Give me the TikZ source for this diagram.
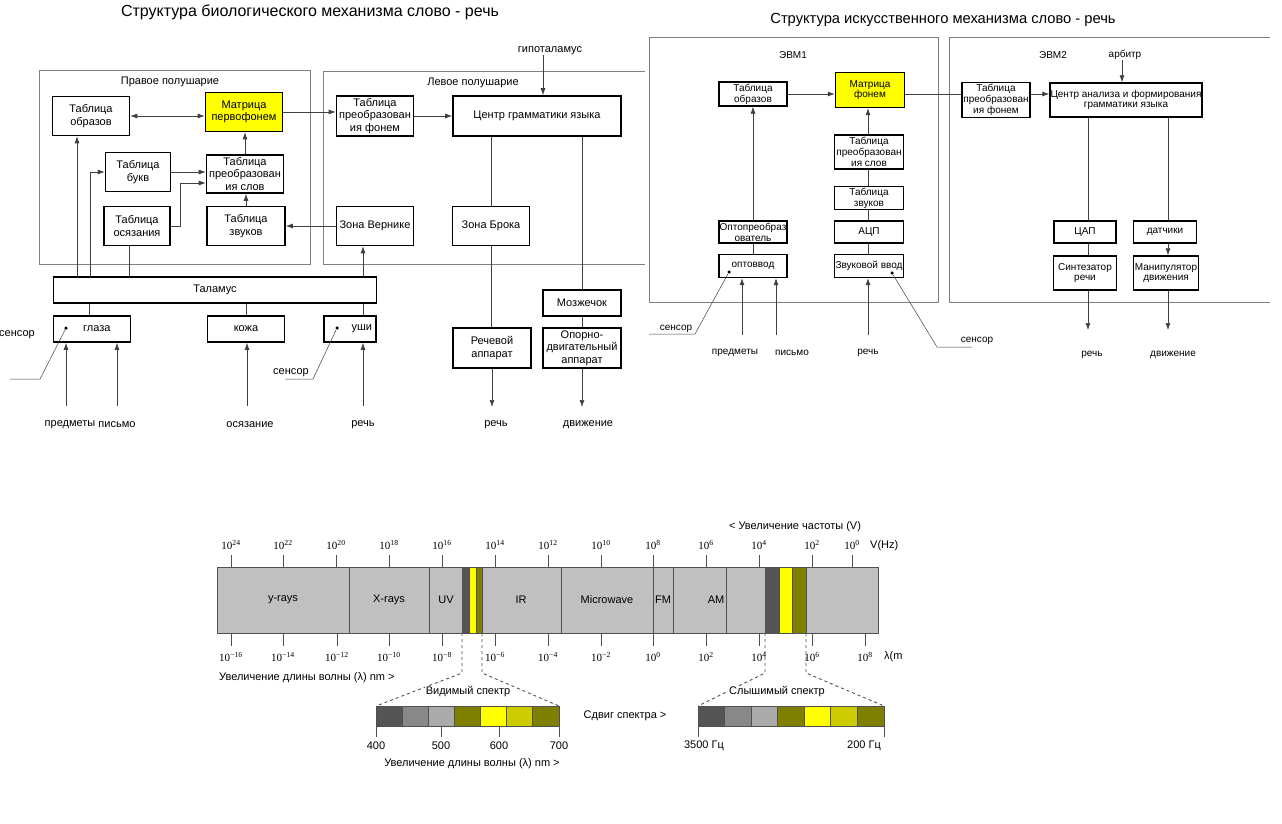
\documentclass[tikz,border=0pt]{standalone}
\usepackage{fontspec}
\setmainfont{Liberation Sans}
\newfontfamily\serifnum{Liberation Serif}
\usetikzlibrary{arrows.meta}

\definecolor{frmgray}{HTML}{808080}
\definecolor{lnkgray}{HTML}{404040}
\definecolor{specgray}{HTML}{C0C0C0}
\definecolor{specline}{HTML}{505050}
\definecolor{specdark}{HTML}{555555}
\definecolor{specmid}{HTML}{888888}
\definecolor{speclight}{HTML}{AAAAAA}
\definecolor{spolive}{HTML}{808000}
\definecolor{splolive}{HTML}{CCCC00}
\definecolor{yel}{HTML}{FFFF00}

\begin{document}
\begin{tikzpicture}[x=1pt, y=-1pt, >={Latex[length=7pt,width=5pt]},
    box/.style={draw, line width=1.6pt, fill=white, align=center, inner sep=0.5pt, font=\fontsize{11}{12.3}\selectfont},
    sbox/.style={box, line width=1.4pt, font=\fontsize{10}{10.8}\selectfont},
    hot/.style={fill=yel},
    hemi/.style={draw=frmgray, line width=0.8pt},
    wire/.style={draw=lnkgray, line width=0.7pt},
    txt/.style={font=\fontsize{11}{12}\selectfont, inner sep=0pt},
    stxt/.style={font=\fontsize{10}{11}\selectfont, inner sep=0pt},
    dotm/.style={circle, fill=black, inner sep=0pt, minimum size=3.5pt},
    band/.style={draw=specline, line width=0.9pt},
    num/.style={font=\serifnum\fontsize{11}{12}\selectfont, inner sep=0pt}]
\useasboundingbox (0,0) rectangle (1282,824);

% titles
\node[font=\fontsize{16}{18}\selectfont] (tBio) at (310,12) {Структура биологического механизма слово - речь};
\node[font=\fontsize{14.7}{16}\selectfont] (tArt) at (943,20) {Структура искусственного механизма слово - речь};

% hemispheres
\draw[hemi] (39,70) rectangle (310,264);
\node[txt] (tRight) at (170,82) {Правое полушарие};
\draw[hemi] (645,71) -- (323,71) -- (323,264) -- (645,264);
\node[txt] (tLeft) at (473,83) {Левое полушарие};

\node[box, minimum width=77, minimum height=39] (bObr) at (91,116) {Таблица\\образов};
\node[box, hot, minimum width=77, minimum height=39] (bMat) at (244,112) {Матрица\\первофонем};
\node[box, minimum width=65, minimum height=39] (bBukv) at (138,172) {Таблица\\букв};
\node[box, minimum width=77, minimum height=38] (bSlov) at (245,174) {Таблица\\преобразован\\ия слов};
\node[box, minimum width=66, minimum height=39] (bOsyaz) at (137,226) {Таблица\\осязания};
\node[box, minimum width=78, minimum height=39] (bZvuk) at (246,226) {Таблица\\звуков};

\node[box, minimum width=77, minimum height=40] (bFon) at (375,116) {Таблица\\преобразован\\ия фонем};
\node[box, minimum width=168, minimum height=40] (bCtr) at (537,116) {Центр грамматики языка};
\node[box, minimum width=77, minimum height=39] (bVern) at (375,226) {Зона Вернике};
\node[box, minimum width=77, minimum height=39] (bBrok) at (491,226) {Зона Брока};
\node[box, minimum width=78, minimum height=26] (bMozg) at (582,303) {Мозжечок};
\node[box, minimum width=78, minimum height=40] (bOpor) at (582,348) {Опорно-\\двигательный\\аппарат};
\node[box, minimum width=78, minimum height=40] (bRech) at (492,348) {Речевой\\аппарат};

\node[box, minimum width=323, minimum height=26] (bTal) at (215,290) {Таламус};
\node[box, minimum width=77, minimum height=26, text width=37, align=right] (bGlaz) at (92,329) {глаза};
\node[box, minimum width=77, minimum height=26] (bKozh) at (246,329) {кожа};
\node[box, minimum width=52, minimum height=26, text width=44, align=right] (bUshi) at (350,329) {уши};
\node[dotm] (dGlaz) at (66,328) {};
\node[dotm] (dUshi) at (337,328) {};

\draw[wire,<->] (bObr.east) -- (bObr.east -| bMat.west);
\draw[wire,->] (bMat.east) -- (bMat.east -| bFon.west);
\draw[wire,->] (bFon.east) -- (bFon.east -| bCtr.west);
\draw[wire,->] (bSlov.north) -- (bSlov.north |- bMat.south);
\draw[wire,->] (bZvuk.north) -- (bZvuk.north |- bSlov.south);
\draw[wire,->] (bBukv.east) -- (bBukv.east -| bSlov.west);
\draw[wire,->] (bOsyaz.east) -- ++(10,0) |- ([yshift=-9pt]bSlov.west);
\draw[wire,->] (bVern.west) -- (bVern.west -| bZvuk.east);
\draw[wire,->] (bTal.north -| 77,0) -- (bObr.south -| 77,0);
\draw[wire,->] (bTal.north -| 90,0) |- (bBukv.west);
\draw[wire] (bOsyaz.south -| 129,0) -- (bTal.north -| 129,0);
\draw[wire] (bGlaz.north -| 89,0) -- (bTal.south -| 89,0);
\draw[wire] (bKozh.north) -- (bKozh.north |- bTal.south);
\draw[wire] (bUshi.north -| 363,0) -- (bTal.south -| 363,0);
\draw[wire,->] (bTal.north -| 363,0) -- (bVern.south -| 363,0);
\draw[wire] (bCtr.south -| bBrok) -- (bBrok.north);
\draw[wire] (bBrok.south) -- (bBrok.south |- bRech.north);
\draw[wire] (bCtr.south -| bMozg) -- (bMozg.north);
\draw[wire] (bMozg.south) -- (bOpor.north);
\node[txt] (tHyp) at (550,51) {гипоталамус};
\draw[wire,->] (tHyp.south -| 543,0) -- (bCtr.north -| 543,0);

% inputs and outputs
\foreach \x/\lx/\t/\b in {66/70/предметы/bGlaz, 117/117/письмо/bGlaz, 247/250/осязание/bKozh, 363/363/речь/bUshi} {
    \coordinate (s\x) at (\x,406);
    \node[txt] (in\x) at (\lx,425) {\t};
    \draw[wire,->] (s\x) -- (s\x |- \b.south);
}
\coordinate (oRech) at (492,407);
\coordinate (oDvig) at (582,407);
\draw[wire,->] (bRech.south) -- (oRech);
\draw[wire,->] (bOpor.south) -- (oDvig);
\node[txt] (tRech) at (496,425) {речь};
\node[txt] (tDvig) at (588,425) {движение};

\coordinate (kG1) at (40,379); \coordinate (kG2) at (10,379);
\draw[wire, line width=0.5pt] (dGlaz) -- (kG1) -- (kG2);
\node[txt, anchor=west] (tSensG) at (-1,335) {сенсор};
\coordinate (kU1) at (313,379); \coordinate (kU2) at (285,379);
\draw[wire, line width=0.5pt] (dUshi) -- (kU1) -- (kU2);
\node[txt] (tSensU) at (291,373) {сенсор};

% computers
\draw[hemi] (649,37) rectangle (938,302);
\node[stxt] (tE1) at (793,55) {ЭВМ1};
\draw[hemi] (1270,37) -- (949,37) -- (949,302) -- (1270,302);
\node[stxt] (tE2) at (1053,55) {ЭВМ2};
\node[stxt] (tArb) at (1125,55) {арбитр};

\node[sbox, minimum width=68, minimum height=24] (cObr) at (753,94) {Таблица\\образов};
\node[sbox, hot, minimum width=69, minimum height=35] (cMat) at (870,90) {Матрица\\фонем};
\node[sbox, minimum width=69, minimum height=34] (cSlov) at (869,152) {Таблица\\преобразован\\ия слов};
\node[sbox, minimum width=69, minimum height=23] (cZvuk) at (869,198) {Таблица\\звуков};
\node[sbox, minimum width=69, minimum height=22] (cAcp) at (869,232) {АЦП};
\node[sbox, minimum width=69, minimum height=23] (cVvod) at (869,266) {Звуковой ввод};
\node[sbox, minimum width=68, minimum height=22] (cOpto) at (753,232) {Оптопреобраз\\ователь};
\node[sbox, minimum width=68, minimum height=23] (cOptv) at (753,266) {оптоввод};
\node[sbox, minimum width=68, minimum height=35] (cFon) at (996,100) {Таблица\\преобразован\\ия фонем};
\node[sbox, minimum width=149, minimum height=34] (cCtr) at (1126,100) {Центр анализа и формирования\\грамматики языка};
\node[sbox, minimum width=62, minimum height=22] (cDac) at (1085,232) {ЦАП};
\node[sbox, minimum width=63, minimum height=22] (cSens) at (1165,232) {датчики};
\node[sbox, minimum width=63, minimum height=34] (cSynt) at (1085,273) {Синтезатор\\речи};
\node[sbox, minimum width=65, minimum height=34] (cMan) at (1166,273) {Манипулятор\\движения};
\node[dotm] (dOpt) at (729,272) {};
\node[dotm] (dZv) at (892,273) {};

\draw[wire,->] (cObr.east) -- (cObr.east -| cMat.west);
\draw[wire] ([yshift=-4pt]cMat.east) -- ([yshift=-4pt]cMat.east -| cFon.west);
\draw[wire,->] ([yshift=6pt]cFon.east) -- ([yshift=6pt]cFon.east -| cCtr.west);
\draw[wire] (cVvod.north -| 868,0) -- (cAcp.south -| 868,0);
\draw[wire] (cAcp.north -| 868,0) -- (cZvuk.south -| 868,0);
\draw[wire] (cZvuk.north -| 868,0) -- (cSlov.south -| 868,0);
\draw[wire,->] (cSlov.north -| 868,0) -- (cMat.south -| 868,0);
\draw[wire] (cOptv.north) -- (cOpto.south);
\draw[wire,->] (cOpto.north) -- (cObr.south);
\draw[wire,->] (tArb.south -| 1122,0) -- (cCtr.north -| 1122,0);
\draw[wire] (cCtr.south -| 1088,0) -- (cDac.north -| 1088,0);
\draw[wire] (cDac.south -| 1088,0) -- (cSynt.north -| 1088,0);
\draw[wire] (cCtr.south -| 1168,0) -- (cSens.north -| 1168,0);
\draw[wire,->] (cSens.south -| 1168,0) -- (cMan.north -| 1168,0);
\coordinate (oSynt) at (1088,330);
\coordinate (oMan) at (1168,330);
\draw[wire,->] (cSynt.south -| 1088,0) -- (oSynt);
\draw[wire,->] (cMan.south -| 1168,0) -- (oMan);
\node[stxt] (tRech2) at (1092,355) {речь};
\node[stxt] (tDvig2) at (1173,355) {движение};

\foreach \x/\lx/\t/\b in {742/735/предметы/cOptv, 776/792/письмо/cOptv, 868/868/речь/cVvod} {
    \coordinate (r\x) at (\x,335);
    \node[stxt] (ri\x) at (\lx,353) {\t};
    \draw[wire,->] (r\x) -- (r\x |- \b.south);
}
\coordinate (kO1) at (695,334); \coordinate (kO2) at (649,334);
\draw[wire, line width=0.5pt] (dOpt) -- (kO1) -- (kO2);
\node[stxt] (tSensO) at (676,329) {сенсор};
\coordinate (kZ1) at (937,347); \coordinate (kZ2) at (972,347);
\draw[wire, line width=0.5pt] (dZv) -- (kZ1) -- (kZ2);
\node[stxt] (tSensZ) at (977,341) {сенсор};

% spectrum
\draw[band, fill=specgray] (217,567) rectangle (878,633);
\foreach \xa/\xb/\c in {462/469/specdark, 469/476/yel, 476/482/spolive, 765/779/specdark, 779/792/yel, 792/806/spolive}
    \draw[band, fill=\c] (\xa,567) rectangle (\xb,633);
\foreach \x in {349,429,561,653,673,726}
    \draw[band] (\x,567) -- (\x,633);
\foreach \x/\t in {283/y-rays, 389/X-rays, 446/UV, 521/IR, 607/Microwave, 663/FM, 716/AM}
    \node[txt] (w\x) at (\x,600) {\t};
\foreach \x/\e in {231/24,283/22,336/20,389/18,442/16,495/14,548/12,601/10,653/8,706/6,759/4,812/2,852/0} {
    \draw[band] (\x,555) -- (\x,567);
    \node[num] (f\x) at (\x,545) {10\textsuperscript{\e}};
}
\foreach \x/\e in {231/−16,283/−14,337/−12,389/−10,442/−8,495/−6,548/−4,601/−2,653/0,706/2,759/4,812/6,865/8} {
    \draw[band] (\x,633) -- (\x,646);
    \node[num] (l\x) at (\x,657) {10\textsuperscript{\e}};
}
\node[txt, anchor=west] (tHz) at (870,546) {V(Hz)};
\node[txt, anchor=west] (tLm) at (884,657) {λ(m};
\node[txt] (tFreq) at (795,527) {< Увеличение частоты (V)};
\node[txt, anchor=west] (tWave) at (219,678) {Увеличение длины волны (λ) nm >};

\foreach \i/\c in {0/specdark,1/specmid,2/speclight,3/spolive,4/yel,5/splolive,6/spolive} {
    \draw[band, fill=\c] (376+26.14*\i,706) rectangle ++(26.14,20);
    \draw[band, fill=\c] (698+26.57*\i,706) rectangle ++(26.57,20);
}
\draw[band, dashed] (462,633) -- (462,673) -- (376,706);
\draw[band, dashed] (482,633) -- (482,673) -- (559,706);
\draw[band, dashed] (765,633) -- (765,673) -- (698,706);
\draw[band, dashed] (806,633) -- (806,673) -- (884,706);
\foreach \x/\t in {376/400, 441/500, 499/600, 559/700} {
    \draw[band] (\x,726) -- (\x,737);
    \node[txt] (v\x) at (\x,746) {\t};
}
\draw[band] (698,726) -- (698,737);
\draw[band] (884,726) -- (884,737);
\node[txt] (a1) at (704,746) {3500 Гц};
\node[txt] (a2) at (864,746) {200 Гц};
\node[txt, fill=white, inner sep=1pt] (tVis) at (468,692) {Видимый спектр};
\node[txt, fill=white, inner sep=1pt] (tAud) at (777,692) {Слышимый спектр};
\node[txt] (tShift) at (625,716) {Сдвиг спектра >};
\node[txt] (tWave2) at (472,764) {Увеличение длины волны (λ) nm >};
\end{tikzpicture}
\end{document}
